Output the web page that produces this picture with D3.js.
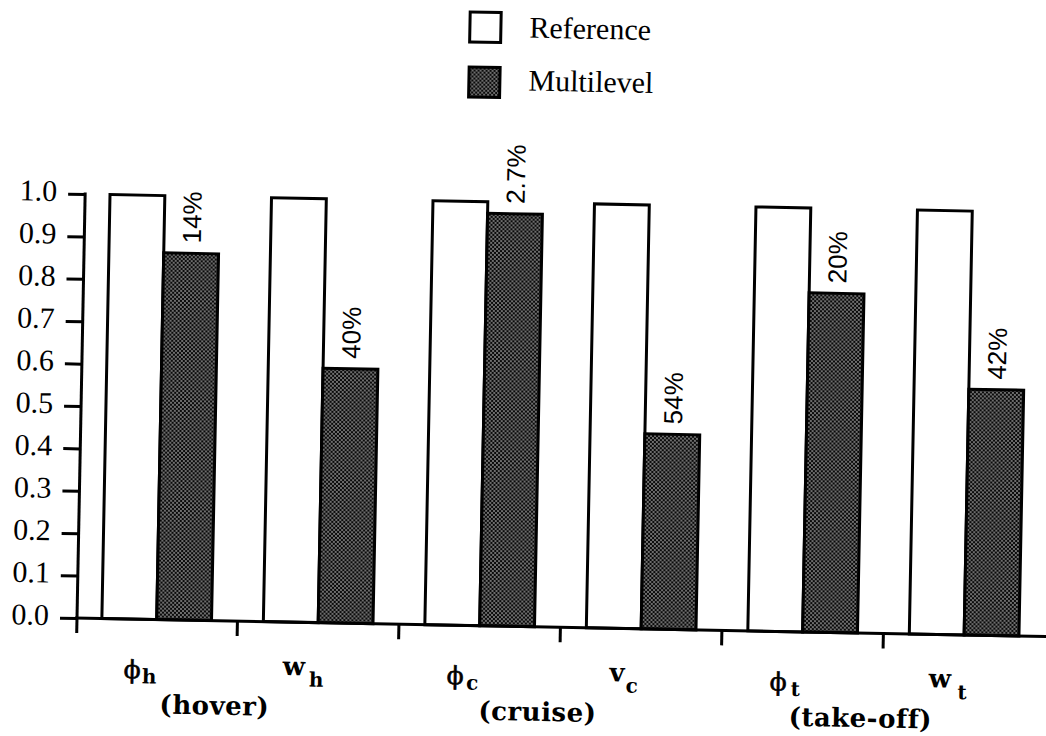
<!DOCTYPE html>
<html>
<head>
<meta charset="utf-8">
<script src="https://cdn.jsdelivr.net/npm/d3@7"></script>
<style>
  html, body { margin: 0; padding: 0; background: #fff; }
  svg { display: block; }
</style>
</head>
<body>
<svg id="chart" width="1046" height="736"></svg>
<script>
// ---- data ----
const symbols = ["ϕ", "w", "ϕ", "v", "ϕ", "w"];
const subscripts = ["h", "h", "c", "c", "t", "t"];
const phases = ["(hover)", "(cruise)", "(take-off)"];
const referenceValues = [1.0, 1.0, 1.0, 1.0, 1.0, 1.0];
const multilevelValues = [0.865, 0.60, 0.973, 0.46, 0.80, 0.58];
const reductionLabels = ["14%", "40%", "2.7%", "54%", "20%", "42%"];
const yTickValues = [0.0, 0.1, 0.2, 0.3, 0.4, 0.5, 0.6, 0.7, 0.8, 0.9, 1.0];
const seriesNames = ["Reference", "Multilevel"];

// ---- layout ----
const svg = d3.select("#chart");
const axisX = 77, baseY = 618, topY = 194;
const root = svg.append("g").attr("transform", `rotate(1.1, ${axisX}, ${baseY})`);

const defs = svg.append("defs");
const pat = defs.append("pattern").attr("id", "dots")
  .attr("patternUnits", "userSpaceOnUse").attr("width", 4).attr("height", 4);
pat.append("rect").attr("width", 4).attr("height", 4).attr("fill", "#0a0a0a");
pat.append("circle").attr("cx", 1).attr("cy", 1).attr("r", 0.78).attr("fill", "#fff");
pat.append("circle").attr("cx", 3).attr("cy", 3).attr("r", 0.78).attr("fill", "#fff");

const idx = d3.range(symbols.length);
const x = d3.scaleBand().domain(idx).range([axisX, 1044]).paddingInner(0.321).paddingOuter(0.154);
const xs = d3.scaleBand().domain(seriesNames).range([0, x.bandwidth()]);
const y = d3.scaleLinear().domain([0, 1]).range([baseY, topY]);

const fill = { Reference: "#fff", Multilevel: "url(#dots)" };

// ---- bars ----
const groups = root.selectAll("g.grp").data(idx).join("g").attr("class", "grp")
  .attr("transform", i => `translate(${x(i)},0)`);
groups.selectAll("rect").data(i => [
    { s: "Reference", v: referenceValues[i] },
    { s: "Multilevel", v: multilevelValues[i] }])
  .join("rect")
  .attr("x", d => xs(d.s)).attr("width", xs.bandwidth())
  .attr("y", d => y(d.v)).attr("height", d => y(0) - y(d.v))
  .attr("fill", d => fill[d.s]).attr("stroke", "#000").attr("stroke-width", 3);

// percent labels (rotated)
groups.append("text")
  .attr("transform", i => `translate(${xs("Multilevel") + xs.bandwidth() / 2},${y(multilevelValues[i]) - 10}) rotate(-90)`)
  .attr("dy", "0.36em")
  .attr("font-family", "'Liberation Sans Narrow', 'Liberation Sans', sans-serif")
  .attr("font-size", 26)
  .attr("fill", "#000")
  .text(i => reductionLabels[i]);

// ---- y axis ----
const yAxis = d3.axisLeft(y).tickValues(yTickValues).tickFormat(d3.format(".1f"))
  .tickSize(17).tickSizeOuter(0).tickPadding(11);
const gy = root.append("g").attr("transform", `translate(${axisX},0)`).call(yAxis)
  .attr("font-family", "'Liberation Serif', 'Times New Roman', serif").attr("font-size", 30);
gy.select(".domain").remove();
gy.selectAll(".tick line").attr("stroke", "#000").attr("stroke-width", 3);
gy.selectAll(".tick text").attr("fill", "#000").attr("dy", 7);
root.append("line").attr("x1", axisX).attr("x2", axisX).attr("y1", y(1) - 1.5).attr("y2", baseY + 15)
  .attr("stroke", "#000").attr("stroke-width", 3);

// ---- x axis ----
root.append("line").attr("x1", axisX - 2).attr("x2", 1060).attr("y1", baseY).attr("y2", baseY)
  .attr("stroke", "#000").attr("stroke-width", 3);
const gapTicks = idx.slice(0, -1).map(i => x(i) + x.bandwidth() + (x.step() - x.bandwidth()) / 2);
root.selectAll("line.xt").data(gapTicks).join("line").attr("class", "xt")
  .attr("x1", d => d).attr("x2", d => d).attr("y1", baseY).attr("y2", baseY + 15)
  .attr("stroke", "#000").attr("stroke-width", 3);

// category labels
const refCenter = i => x(i) + xs("Reference") + xs.bandwidth() / 2 + 4;
const lab = root.selectAll("text.cat").data(idx).join("text").attr("class", "cat")
  .attr("x", refCenter).attr("text-anchor", "middle").attr("fill", "#000")
  .attr("font-family", "'DejaVu Serif', serif");
lab.append("tspan")
  .attr("y", i => symbols[i] === "ϕ" ? 677 : 671)
  .attr("font-size", i => symbols[i] === "ϕ" ? 25 : 26)
  .attr("font-weight", i => symbols[i] === "ϕ" ? "normal" : "bold")
  .attr("stroke", i => symbols[i] === "ϕ" ? "#000" : "none")
  .attr("stroke-width", 0.6)
  .text(i => symbols[i]);
lab.append("tspan").attr("y", 682).attr("font-size", 20).attr("font-weight", "bold")
  .attr("stroke", "none")
  .text(i => subscripts[i]);

root.selectAll("text.phase").data(phases).join("text").attr("class", "phase")
  .attr("x", (d, k) => (refCenter(2 * k) + refCenter(2 * k + 1)) / 2 + 2)
  .attr("y", 712).attr("text-anchor", "middle")
  .attr("font-family", "'DejaVu Serif', serif").attr("font-weight", "bold")
  .attr("font-size", 26).attr("letter-spacing", 0.5).attr("fill", "#000")
  .text(d => d);

// ---- legend ----
const legend = root.append("g").attr("transform", "translate(457,3)");
const li = legend.selectAll("g").data(seriesNames).join("g")
  .attr("transform", (d, k) => `translate(0,${k * 55})`);
li.append("rect").attr("x", 1.5).attr("y", 1.5).attr("width", 31).attr("height", 30)
  .attr("fill", d => fill[d]).attr("stroke", "#000").attr("stroke-width", 3);
li.append("text").attr("x", 61).attr("y", (d, k) => 26 - k * 2)
  .attr("font-family", "'Liberation Serif', 'Times New Roman', serif")
  .attr("font-size", 30).attr("fill", "#000").text(d => d);
</script>
</body>
</html>
